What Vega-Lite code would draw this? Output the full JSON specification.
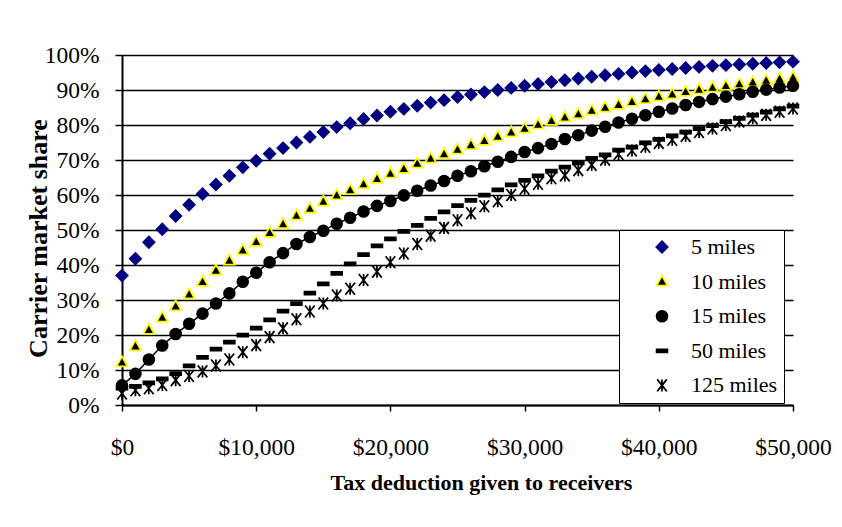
{
  "$schema": "https://vega.github.io/schema/vega-lite/v6.json",
  "autosize": "none",
  "width": 671,
  "height": 350,
  "padding": {"left": 122, "top": 55, "right": 49, "bottom": 122},
  "background": "white",
  "config": {
    "font": "Liberation Serif",
    "view": {"stroke": null},
    "axis": {
      "domainColor": "#000000",
      "domainWidth": 2,
      "tickColor": "#000000",
      "tickWidth": 1.5,
      "gridColor": "#000000",
      "gridWidth": 1.5,
      "gridOpacity": 1,
      "labelColor": "#000000",
      "labelFont": "Liberation Serif",
      "labelFontSize": 23.5,
      "titleColor": "#000000",
      "titleFont": "Liberation Serif",
      "titleFontWeight": "bold"
    },
    "legend": {
      "symbolStrokeWidth": 1.75,
      "title": null,
      "orient": "none",
      "legendX": 497,
      "legendY": 175,
      "fillColor": "#ffffff",
      "strokeColor": "#000000",
      "padding": 6,
      "rowPadding": 12.6,
      "symbolSize": 144,
      "symbolOffset": 26,
      "labelOffset": 18,
      "labelFont": "Liberation Serif",
      "labelFontSize": 22,
      "labelColor": "#000000",
      "labelLimit": 200
    }
  },
  "data": {
    "values": [
      {"d": 0, "5 miles": 37, "10 miles": 12.2, "15 miles": 5.6, "50 miles": 4.8, "125 miles": 3.3},
      {"d": 1000, "5 miles": 41.8, "10 miles": 16.8, "15 miles": 8.9, "50 miles": 5.3, "125 miles": 4.2},
      {"d": 2000, "5 miles": 46.5, "10 miles": 21.5, "15 miles": 13, "50 miles": 6.3, "125 miles": 4.8},
      {"d": 3000, "5 miles": 50.2, "10 miles": 25, "15 miles": 17, "50 miles": 7.5, "125 miles": 5.7},
      {"d": 4000, "5 miles": 54, "10 miles": 28.2, "15 miles": 20.3, "50 miles": 9, "125 miles": 7.1},
      {"d": 5000, "5 miles": 57.2, "10 miles": 31.6, "15 miles": 23.2, "50 miles": 11.2, "125 miles": 8.3},
      {"d": 6000, "5 miles": 60.3, "10 miles": 35.2, "15 miles": 26.1, "50 miles": 13.6, "125 miles": 9.6},
      {"d": 7000, "5 miles": 63, "10 miles": 38.4, "15 miles": 29, "50 miles": 16, "125 miles": 11.3},
      {"d": 8000, "5 miles": 65.5, "10 miles": 41.3, "15 miles": 31.9, "50 miles": 18, "125 miles": 13},
      {"d": 9000, "5 miles": 67.9, "10 miles": 44.2, "15 miles": 35.2, "50 miles": 20, "125 miles": 15.1},
      {"d": 10000, "5 miles": 69.8, "10 miles": 46.6, "15 miles": 37.8, "50 miles": 22, "125 miles": 17.1},
      {"d": 11000, "5 miles": 71.8, "10 miles": 49.2, "15 miles": 40.8, "50 miles": 24.3, "125 miles": 19.4},
      {"d": 12000, "5 miles": 73.4, "10 miles": 51.7, "15 miles": 43.4, "50 miles": 26.8, "125 miles": 21.9},
      {"d": 13000, "5 miles": 75, "10 miles": 54.1, "15 miles": 46, "50 miles": 29, "125 miles": 24.5},
      {"d": 14000, "5 miles": 76.6, "10 miles": 56.1, "15 miles": 48, "50 miles": 32, "125 miles": 26.7},
      {"d": 15000, "5 miles": 78, "10 miles": 58.1, "15 miles": 49.8, "50 miles": 34.6, "125 miles": 29},
      {"d": 16000, "5 miles": 79.4, "10 miles": 59.9, "15 miles": 51.8, "50 miles": 37.6, "125 miles": 31.3},
      {"d": 17000, "5 miles": 80.5, "10 miles": 61.4, "15 miles": 53.5, "50 miles": 40.3, "125 miles": 33.2},
      {"d": 18000, "5 miles": 81.7, "10 miles": 63.1, "15 miles": 55.3, "50 miles": 43, "125 miles": 35.7},
      {"d": 19000, "5 miles": 82.7, "10 miles": 64.6, "15 miles": 56.9, "50 miles": 45.5, "125 miles": 38.1},
      {"d": 20000, "5 miles": 83.8, "10 miles": 66.1, "15 miles": 58.3, "50 miles": 47.5, "125 miles": 40.8},
      {"d": 21000, "5 miles": 84.6, "10 miles": 67.5, "15 miles": 59.9, "50 miles": 49.6, "125 miles": 43.3},
      {"d": 22000, "5 miles": 85.5, "10 miles": 69, "15 miles": 61.2, "50 miles": 51.3, "125 miles": 46},
      {"d": 23000, "5 miles": 86.4, "10 miles": 70.4, "15 miles": 62.7, "50 miles": 53.3, "125 miles": 48.4},
      {"d": 24000, "5 miles": 87.1, "10 miles": 71.7, "15 miles": 64, "50 miles": 55.2, "125 miles": 50.6},
      {"d": 25000, "5 miles": 88, "10 miles": 73, "15 miles": 65.5, "50 miles": 57, "125 miles": 52.8},
      {"d": 26000, "5 miles": 88.7, "10 miles": 74.3, "15 miles": 66.8, "50 miles": 58.5, "125 miles": 54.8},
      {"d": 27000, "5 miles": 89.4, "10 miles": 75.5, "15 miles": 68.2, "50 miles": 60, "125 miles": 56.8},
      {"d": 28000, "5 miles": 90, "10 miles": 76.7, "15 miles": 69.5, "50 miles": 61.5, "125 miles": 58.2},
      {"d": 29000, "5 miles": 90.6, "10 miles": 77.9, "15 miles": 70.9, "50 miles": 62.9, "125 miles": 60},
      {"d": 30000, "5 miles": 91.2, "10 miles": 79, "15 miles": 72.3, "50 miles": 64.2, "125 miles": 61.8},
      {"d": 31000, "5 miles": 91.7, "10 miles": 80.1, "15 miles": 73.4, "50 miles": 65.5, "125 miles": 63.2},
      {"d": 32000, "5 miles": 92.3, "10 miles": 81.2, "15 miles": 74.6, "50 miles": 66.8, "125 miles": 64.8},
      {"d": 33000, "5 miles": 92.8, "10 miles": 82.2, "15 miles": 76, "50 miles": 68, "125 miles": 65.6},
      {"d": 34000, "5 miles": 93.3, "10 miles": 83.1, "15 miles": 77.1, "50 miles": 69.2, "125 miles": 67.1},
      {"d": 35000, "5 miles": 93.8, "10 miles": 84.1, "15 miles": 78.4, "50 miles": 70.5, "125 miles": 68.6},
      {"d": 36000, "5 miles": 94.2, "10 miles": 85, "15 miles": 79.5, "50 miles": 71.5, "125 miles": 70.1},
      {"d": 37000, "5 miles": 94.6, "10 miles": 85.8, "15 miles": 80.7, "50 miles": 72.8, "125 miles": 71.7},
      {"d": 38000, "5 miles": 95, "10 miles": 86.6, "15 miles": 81.8, "50 miles": 73.7, "125 miles": 72.7},
      {"d": 39000, "5 miles": 95.4, "10 miles": 87.4, "15 miles": 82.8, "50 miles": 74.9, "125 miles": 73.8},
      {"d": 40000, "5 miles": 95.7, "10 miles": 88.1, "15 miles": 83.8, "50 miles": 75.9, "125 miles": 74.9},
      {"d": 41000, "5 miles": 96, "10 miles": 88.8, "15 miles": 84.7, "50 miles": 76.9, "125 miles": 75.8},
      {"d": 42000, "5 miles": 96.3, "10 miles": 89.5, "15 miles": 85.7, "50 miles": 78, "125 miles": 76.9},
      {"d": 43000, "5 miles": 96.6, "10 miles": 90.1, "15 miles": 86.6, "50 miles": 79, "125 miles": 78},
      {"d": 44000, "5 miles": 96.9, "10 miles": 90.7, "15 miles": 87.4, "50 miles": 79.8, "125 miles": 79},
      {"d": 45000, "5 miles": 97.1, "10 miles": 91.2, "15 miles": 88.1, "50 miles": 81, "125 miles": 80},
      {"d": 46000, "5 miles": 97.3, "10 miles": 91.7, "15 miles": 88.8, "50 miles": 81.9, "125 miles": 81},
      {"d": 47000, "5 miles": 97.5, "10 miles": 92.2, "15 miles": 89.5, "50 miles": 82.8, "125 miles": 81.9},
      {"d": 48000, "5 miles": 97.7, "10 miles": 92.7, "15 miles": 90.1, "50 miles": 83.7, "125 miles": 82.9},
      {"d": 49000, "5 miles": 97.9, "10 miles": 93.2, "15 miles": 90.7, "50 miles": 84.6, "125 miles": 83.8},
      {"d": 50000, "5 miles": 98.1, "10 miles": 93.6, "15 miles": 91.2, "50 miles": 85.4, "125 miles": 84.7}
    ]
  },
  "transform": [
    {"fold": ["5 miles", "10 miles", "15 miles", "50 miles", "125 miles"], "as": ["series", "share"]}
  ],
  "encoding": {
    "x": {
      "field": "d",
      "type": "quantitative",
      "scale": {"domain": [0, 50000], "nice": false, "zero": true},
      "axis": {
        "values": [0, 10000, 20000, 30000, 40000, 50000],
        "format": "$,d",
        "grid": false,
        "tickSize": 6,
        "labelPadding": 43,
        "labelBaseline": "alphabetic",
        "labelFlush": false,
        "title": "Tax deduction given to receivers",
        "titleFontSize": 22,
        "titleX": 359,
        "titleY": 84,
        "titleAlign": "center",
        "titleBaseline": "alphabetic"
      }
    },
    "y": {
      "field": "share",
      "type": "quantitative",
      "scale": {"domain": [0, 100], "nice": false},
      "axis": {
        "values": [0, 10, 20, 30, 40, 50, 60, 70, 80, 90, 100],
        "labelExpr": "datum.value + '%'",
        "grid": true,
        "tickSize": 7,
        "labelPadding": 16,
        "labelFlush": false,
        "title": "Carrier market share",
        "titleFontSize": 26,
        "titleX": -76,
        "titleY": 183,
        "titleAngle": -90,
        "titleAlign": "center",
        "titleBaseline": "alphabetic"
      }
    }
  },
  "layer": [
    {
      "transform": [{"filter": "datum.series === '15 miles'"}],
      "mark": {"type": "line", "color": "#000000", "strokeWidth": 1.5},
      "encoding": {}
    },
    {
      "mark": {"type": "point", "filled": true, "size": 144, "strokeWidth": 1.75, "opacity": 1},
      "encoding": {
        "shape": {
          "field": "series",
          "type": "nominal",
          "scale": {
            "domain": ["5 miles", "10 miles", "15 miles", "50 miles", "125 miles"],
            "range": [
              "M-0.95,0L0,-0.95L0.95,0L0,0.95Z",
              "M0,-1L-0.92,0.68L0.92,0.68Z",
              "M-0.9,0A0.9,0.9 0 1,1 0.9,0A0.9,0.9 0 1,1 -0.9,0Z",
              "M-0.9,-0.25L0.9,-0.25L0.9,0.25L-0.9,0.25Z",
              "M-0.8,-1L0.8,1M0.8,-1L-0.8,1M0,-1L0,1"
            ]
          }
        },
        "fill": {
          "field": "series",
          "type": "nominal",
          "scale": {
            "domain": ["5 miles", "10 miles", "15 miles", "50 miles", "125 miles"],
            "range": ["#000080", "#000000", "#000000", "#000000", "#000000"]
          }
        },
        "stroke": {
          "field": "series",
          "type": "nominal",
          "scale": {
            "domain": ["5 miles", "10 miles", "15 miles", "50 miles", "125 miles"],
            "range": ["#000080", "#FFFF00", "#000000", "#000000", "#000000"]
          }
        }
      }
    }
  ]
}
